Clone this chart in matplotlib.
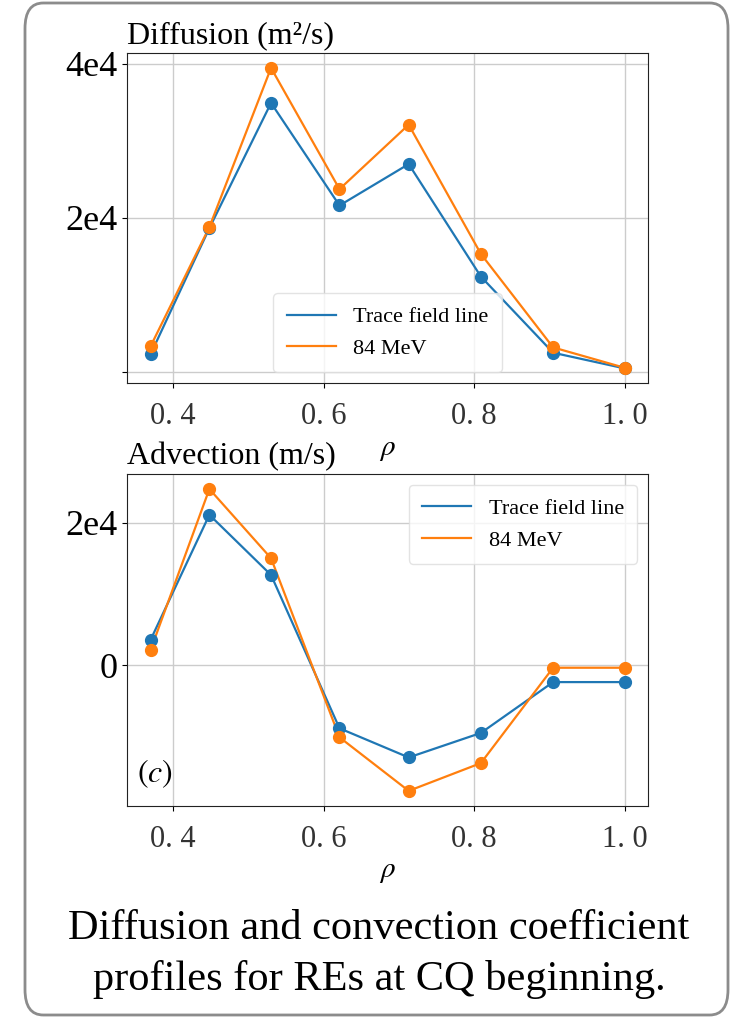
import matplotlib.pyplot as plt
from matplotlib.patches import FancyBboxPatch

plt.rcParams['font.family'] = ['Liberation Serif', 'DejaVu Serif']
plt.rcParams['mathtext.fontset'] = 'stix'

rho = [0.37, 0.448, 0.53, 0.621, 0.713, 0.809, 0.905, 1.0]
diff_trace = [2340, 18660, 34900, 21600, 26970, 12380, 2510, 480]
diff_84mev = [3380, 18800, 39440, 23720, 32080, 15320, 3200, 560]
adv_trace = [3610, 21080, 12650, -8810, -12890, -9460, -2340, -2340]
adv_84mev = [2200, 24690, 15000, -10070, -17570, -13680, -330, -330]
xtick_vals = [0.4, 0.6, 0.8, 1.0]
xtick_labels = ["0. 4", "0. 6", "0. 8", "1. 0"]

blue = "#1f77b4"
orange = "#ff7f0e"

fig = plt.figure(figsize=(7.3, 10.17), dpi=100)

# rounded frame around everything
frame = FancyBboxPatch((25 / 730, 1 - 1015 / 1017), 703 / 730, 1012 / 1017,
                       boxstyle="round,pad=0,rounding_size=0.025",
                       transform=fig.transFigure, facecolor="none",
                       edgecolor="#8c8c8c", linewidth=2)
fig.patches.append(frame)

ax1 = fig.add_axes([0.174, 0.623, 0.714, 0.325])
ax2 = fig.add_axes([0.174, 0.2075, 0.714, 0.3265])

for ax, yt, yf in [(ax1, diff_trace, diff_84mev), (ax2, adv_trace, adv_84mev)]:
    ax.plot(rho, yt, color=blue, linewidth=1.6, label="Trace field line")
    ax.plot(rho, yf, color=orange, linewidth=1.6, label="84 MeV")
    ax.plot(rho, yt, "o", color=blue, markersize=8.5)
    ax.plot(rho, yf, "o", color=orange, markersize=8.5)
    ax.grid(color="#cccccc", linewidth=1)
    ax.set_xticks(xtick_vals)
    ax.set_xticklabels(xtick_labels, fontsize=22, color="#333333")
    ax.tick_params(axis="x", pad=10)
    ax.set_xlabel(r"$\rho$", fontsize=21, labelpad=4)
    ax.tick_params(axis="y", labelsize=26)
    for s in ax.spines.values():
        s.set_color("#222222")

ax1.set_yticks([0, 20000, 40000])
ax1.set_yticklabels(["", "2e4", "4e4"])
ax2.set_yticks([0, 20000])
ax2.set_yticklabels(["0", "2e4"])

ax1.set_title("Diffusion (m²/s)", loc="left", fontsize=23, pad=7)
ax2.set_title("Advection (m/s)", loc="left", fontsize=23, pad=7)

ax1.legend(loc="lower center", fontsize=16, handlelength=2.2, borderpad=0.6,
           framealpha=0.8, edgecolor="#dddddd", fancybox=True)
ax2.legend(loc="upper right", fontsize=16, handlelength=2.2, borderpad=0.6,
           framealpha=0.8, edgecolor="#dddddd", fancybox=True)

ax2.text(0.02, 0.07, r"$(c)$", transform=ax2.transAxes, fontsize=23)

fig.text(379 / 730, 1 - 939 / 1017, "Diffusion and convection coefficient",
         ha="center", va="baseline", fontsize=30.5)
fig.text(379 / 730, 1 - 990 / 1017, "profiles for REs at CQ beginning.",
         ha="center", va="baseline", fontsize=30.5)

fig.savefig("out.png", dpi=100)
